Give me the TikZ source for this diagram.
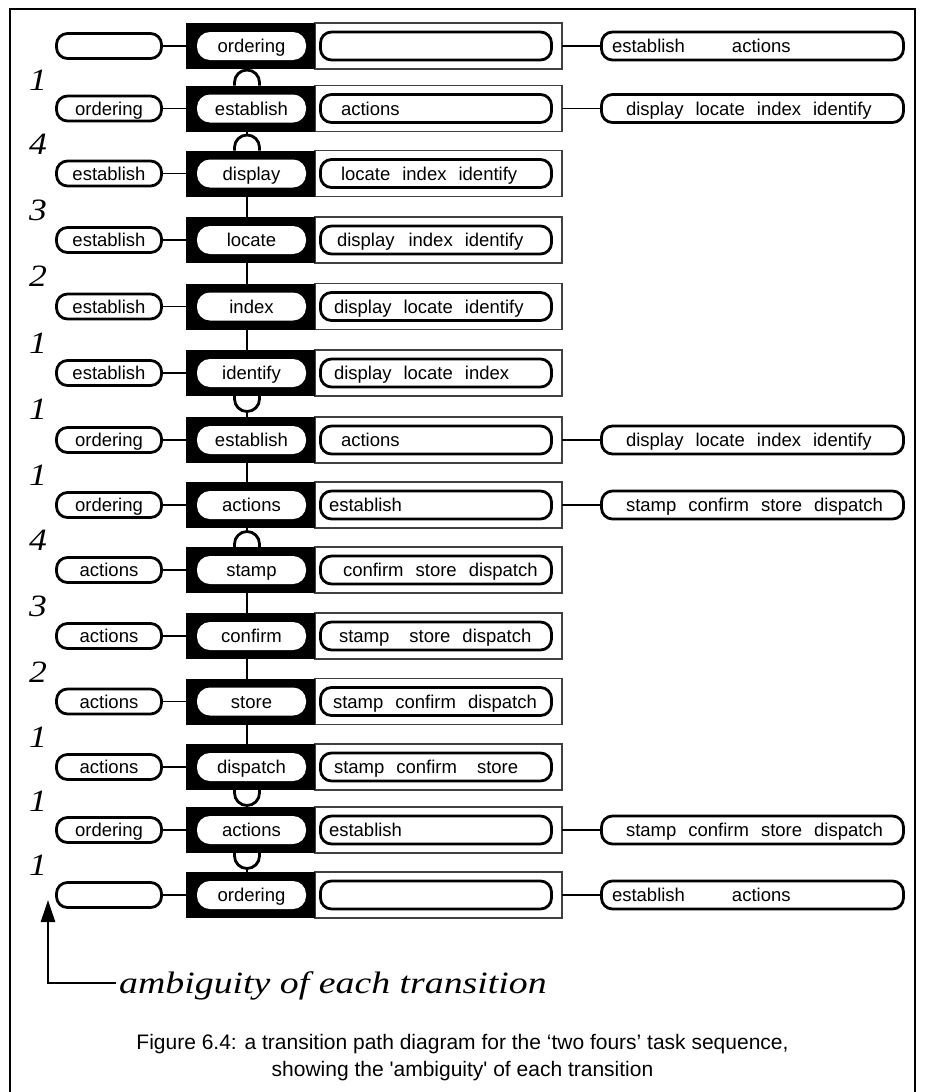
\documentclass[tikz,border=0pt]{standalone}
\usepackage{fontspec}
\usepackage{graphicx}
\usetikzlibrary{arrows.meta}
\newfontfamily\sansf{Liberation Sans}
\newfontfamily\seriff{Liberation Serif}
\newcommand\wg{\hspace{12pt}}
\newcommand\wgg{\hspace{20pt}}
\tikzset{
  frame/.style={line width=1.6pt},
  pillbase/.style={draw, line width=2.8pt, rounded corners=11pt, inner sep=0pt, outer sep=0pt,
    font=\sansf\fontsize{18.5}{22}\selectfont, text height=13pt, text depth=0pt},
  lpill/.style={pillbase, minimum width=105pt, minimum height=25pt},
  mpill/.style={pillbase, text width=231pt, minimum height=28pt, align=left},
  rpill/.style={pillbase, text width=302pt, minimum height=28pt, align=left},
  bbox/.style={fill=black, minimum width=129pt, minimum height=46pt, inner sep=0pt, outer sep=0pt},
  wpill/.style={fill=white, rounded corners=13pt, minimum width=109pt, minimum height=28pt,
    inner sep=0pt, outer sep=0pt, font=\sansf\fontsize{18.5}{22}\selectfont, text height=13pt, text depth=0pt},
  mrect/.style={draw=black!75, line width=1.1pt, minimum width=247pt, minimum height=46pt, inner sep=0pt, outer sep=0pt},
  hconn/.style={line width=1.8pt},
  vconn/.style={line width=2.8pt},
  ambnum/.style={font=\seriff\itshape\fontsize{31}{33}\selectfont, anchor=base, inner sep=0pt},
  ambtext/.style={font=\seriff\itshape\fontsize{31}{33}\selectfont, anchor=base west, inner xsep=3pt, inner ysep=0pt},
  arrowline/.style={line width=2.6pt, -{Triangle[width=14pt,length=22pt]}},
  captxt/.style={font=\sansf\fontsize{21}{25}\selectfont, anchor=base, inner sep=0pt},
}
% #1 id, #2 y, #3 left text, #4 black-box text, #5 middle offset, #6 middle text
\newcommand\trow[6]{%
  \node[lpill] (L#1) at (109,-#2) {#3};
  \node[mrect] (M#1) at (438.5,-#2) {};
  \node[bbox] (B#1) at (250.5,-#2) {};
  \node[wpill] (W#1) at (251.5,-#2) {#4};
  \node[mpill] (P#1) at (436,-#2) {\hspace*{#5pt}#6};
  \draw[hconn] (L#1) -- (B#1);
}
% #1 id, #2 y, #3 offset, #4 text
\newcommand\rrow[4]{%
  \node[rpill] (R#1) at (752.5,-#2) {\hspace*{#3pt}#4};
  \draw[hconn] (M#1) -- (R#1);
}
\newcommand\vstraight[2]{%
  \draw[vconn] ([xshift=-3.5pt]B#1.south) -- ([xshift=-3.5pt]B#2.north);
}
\newcommand\archup[2]{%
  \draw[vconn] ([xshift=-16pt]B#2.north) -- ++(0,3pt) arc[start angle=180,end angle=0,radius=12.5pt] -- ([xshift=9pt]B#2.north);
  \draw[vconn] ([xshift=-3.5pt]B#1.south) -- ([xshift=-3.5pt,yshift=15.5pt]B#2.north);
}
\newcommand\archdown[2]{%
  \draw[vconn] ([xshift=-16pt]B#1.south) -- ++(0,-3pt) arc[start angle=180,end angle=360,radius=12.5pt] -- ([xshift=9pt]B#1.south);
  \draw[vconn] ([xshift=-3.5pt]B#2.north) -- ([xshift=-3.5pt,yshift=-15.5pt]B#1.south);
}
\begin{document}
\begin{tikzpicture}[x=1pt,y=1pt]
\useasboundingbox (0,0) rectangle (925,-1092);
\draw[frame] (10,-1092) -- (10,-9) -- (915,-9) -- (915,-1092);

\trow{1}{46}{}{ordering}{0}{}
\rrow{1}{46}{10.5}{establish\hspace*{47pt}actions}
\trow{2}{108.5}{ordering}{establish}{20.5}{actions}
\rrow{2}{108.5}{24.5}{display\wg locate\wg index\wg identify}
\trow{3}{173.5}{establish}{display}{20.5}{locate\wg index\wg identify}
\trow{4}{240}{establish}{locate}{16.5}{display\hspace{14pt}index\wg identify}
\trow{5}{306.5}{establish}{index}{13.5}{display\wg locate\wg identify}
\trow{6}{373}{establish}{identify}{13.5}{display\wg locate\wg index}
\trow{7}{440}{ordering}{establish}{20.5}{actions}
\rrow{7}{440}{24.5}{display\wg locate\wg index\wg identify}
\trow{8}{505}{ordering}{actions}{8.5}{establish}
\rrow{8}{505}{24.5}{stamp\wg confirm\wg store\wg dispatch}
\trow{9}{570}{actions}{stamp}{22.5}{confirm\wg store\wg dispatch}
\trow{10}{636}{actions}{confirm}{18.5}{stamp\wgg store\wg dispatch}
\trow{11}{701.5}{actions}{store}{12.5}{stamp\wg confirm\wg dispatch}
\trow{12}{767}{actions}{dispatch}{13.5}{stamp\wg confirm\wgg store}
\trow{13}{830}{ordering}{actions}{8.5}{establish}
\rrow{13}{830}{24.5}{stamp\wg confirm\wg store\wg dispatch}
\trow{14}{895}{}{ordering}{0}{}
\rrow{14}{895}{10.5}{establish\hspace*{47pt}actions}

\archup{1}{2}
\archup{2}{3}
\vstraight{3}{4}
\vstraight{4}{5}
\vstraight{5}{6}
\archdown{6}{7}
\vstraight{7}{8}
\archup{8}{9}
\vstraight{9}{10}
\vstraight{10}{11}
\vstraight{11}{12}
\archdown{12}{13}
\archdown{13}{14}

\node[ambnum] (n1) at (38,-90) {\scalebox{1.15}[1]{1}};
\node[ambnum] (n2) at (38,-154) {\scalebox{1.15}[1]{4}};
\node[ambnum] (n3) at (38,-220) {\scalebox{1.15}[1]{3}};
\node[ambnum] (n4) at (38,-286) {\scalebox{1.15}[1]{2}};
\node[ambnum] (n5) at (38,-353) {\scalebox{1.15}[1]{1}};
\node[ambnum] (n6) at (38,-419.5) {\scalebox{1.15}[1]{1}};
\node[ambnum] (n7) at (38,-485.5) {\scalebox{1.15}[1]{1}};
\node[ambnum] (n8) at (38,-550.5) {\scalebox{1.15}[1]{4}};
\node[ambnum] (n9) at (38,-616) {\scalebox{1.15}[1]{3}};
\node[ambnum] (n10) at (38,-682) {\scalebox{1.15}[1]{2}};
\node[ambnum] (n11) at (38,-747) {\scalebox{1.15}[1]{1}};
\node[ambnum] (n12) at (38,-811.5) {\scalebox{1.15}[1]{1}};
\node[ambnum] (n13) at (38,-875.5) {\scalebox{1.15}[1]{1}};

\node[ambtext] (amb) at (116,-993) {\scalebox{1.22}[1]{ambiguity of each transition}};
\coordinate (elbow) at (48,-983);
\coordinate (tip) at (48,-900);
\draw[arrowline] (amb.west |- elbow) -- (elbow) -- (tip);

\node[captxt] (cap1) at (462.5,-1049) {Figure 6.4: a transition path diagram for the ‘two fours’ task sequence,};
\node[captxt] (cap2) at (462.5,-1076) {showing the 'ambiguity' of each transition};
\end{tikzpicture}
\end{document}
